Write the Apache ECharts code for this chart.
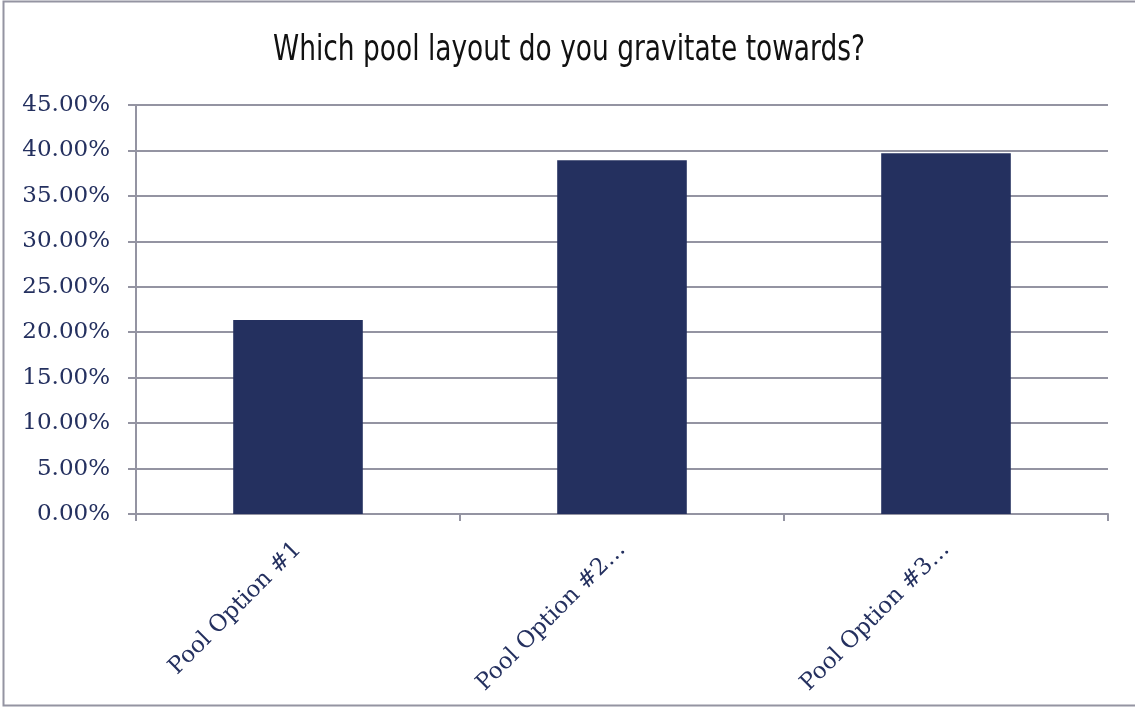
<!DOCTYPE html>
<html>
<head>
<meta charset="utf-8">
<style>
  html, body { margin: 0; padding: 0; background: #ffffff; }
  #chart { width: 1135px; height: 709px; }
</style>
<script src="https://cdn.jsdelivr.net/npm/echarts@6/dist/echarts.min.js"></script>
</head>
<body>
<div id="chart"></div>
<script>
// Survey answers: share of respondents for each pool layout
const categories = ['Pool Option #1', 'Pool Option #2…', 'Pool Option #3…'];
const shares = [21.34, 38.92, 39.69];
const yTicks = { min: 0, max: 45, step: 5 };
const titleText = 'Which pool layout do you gravitate towards?';

const navy = '#24305f';
const gridGray = '#9494a2';
const labelFont = '"DejaVu Serif", "Liberation Serif", serif';

const chart = echarts.init(document.getElementById('chart'), null, { renderer: 'canvas' });

chart.setOption({
  backgroundColor: '#ffffff',
  animation: false,
  graphic: [
    {
      type: 'rect',
      shape: { x: 3.5, y: 1.5, width: 1140, height: 704 },
      style: { fill: 'none', stroke: gridGray, lineWidth: 2 },
      silent: true
    },
    {
      // condensed heading, centred over the chart
      type: 'text',
      x: 569,
      y: 33,
      scaleX: 0.84,
      style: {
        text: titleText,
        textAlign: 'center',
        textVerticalAlign: 'top',
        fontFamily: '"DejaVu Sans Condensed", "DejaVu Sans", sans-serif',
        fontSize: 35,
        fill: '#111111'
      },
      silent: true
    }
  ],
  grid: { left: 136, right: 27, top: 105, bottom: 195 },
  xAxis: {
    type: 'category',
    data: categories,
    axisLine: { lineStyle: { color: gridGray, width: 2 } },
    axisTick: { show: true, alignWithLabel: false, length: 7, lineStyle: { color: gridGray, width: 2 } },
    axisLabel: {
      rotate: 45,
      margin: 32,
      color: navy,
      fontFamily: labelFont,
      fontSize: 23
    }
  },
  yAxis: {
    type: 'value',
    min: yTicks.min,
    max: yTicks.max,
    interval: yTicks.step,
    axisLine: { show: true, lineStyle: { color: gridGray, width: 2 } },
    axisTick: { show: true, length: 8, lineStyle: { color: gridGray, width: 2 } },
    splitLine: { show: true, lineStyle: { color: gridGray, width: 2 } },
    axisLabel: {
      margin: 26,
      color: navy,
      fontFamily: labelFont,
      fontSize: 23,
      formatter: v => v.toFixed(2) + '%'
    }
  },
  series: [{
    type: 'bar',
    data: shares,
    barCategoryGap: '60%',
    itemStyle: { color: navy },
    z: 3
  }]
});
</script>
</body>
</html>
